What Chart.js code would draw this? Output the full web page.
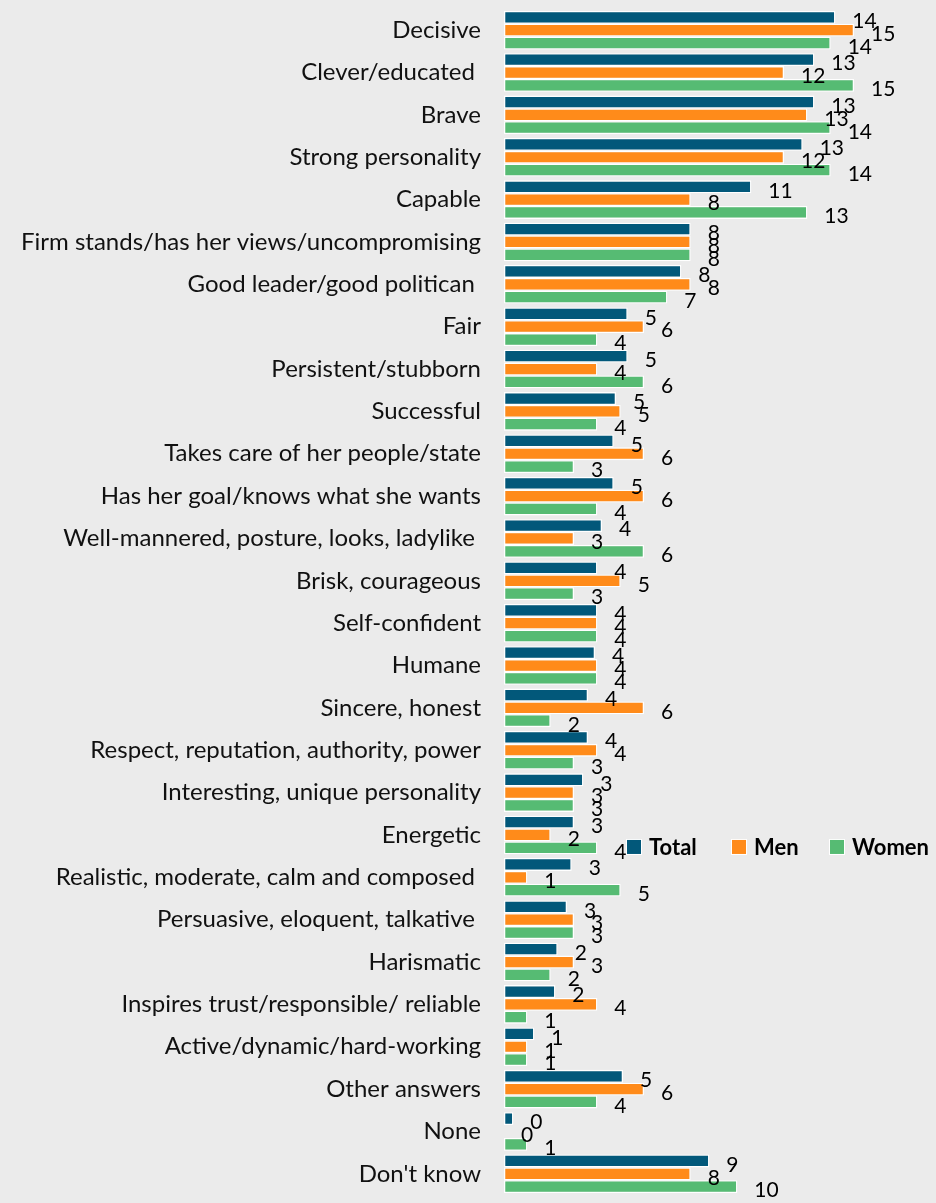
<!DOCTYPE html>
<html>
<head>
<meta charset="utf-8">
<script src="https://cdn.jsdelivr.net/npm/chart.js@4.4.1/dist/chart.umd.min.js"></script>
<style>
  html, body { margin: 0; padding: 0; background: #ebebeb; }
  #traitsChart { display: block; }
</style>
</head>
<body>
<canvas id="traitsChart" width="936" height="1203"></canvas>
<script>
const categories = [
    'Decisive', 'Clever/educated ', 'Brave', 'Strong personality', 'Capable',
    'Firm stands/has her views/uncompromising', 'Good leader/good politican ', 'Fair',
    'Persistent/stubborn', 'Successful', 'Takes care of her people/state',
    'Has her goal/knows what she wants', 'Well-mannered, posture, looks, ladylike ',
    'Brisk, courageous', 'Self-confident', 'Humane', 'Sincere, honest',
    'Respect, reputation, authority, power', 'Interesting, unique personality', 'Energetic',
    'Realistic, moderate, calm and composed ', 'Persuasive, eloquent, talkative ',
    'Harismatic', 'Inspires trust/responsible/ reliable', 'Active/dynamic/hard-working',
    'Other answers', 'None', "Don't know"
];
const totalValues = [14.2, 13.3, 13.3, 12.8, 10.6, 8.0, 7.6, 5.3, 5.3, 4.8, 4.7, 4.7, 4.2, 4.0,
    4.0, 3.9, 3.6, 3.6, 3.4, 3.0, 2.9, 2.7, 2.3, 2.2, 1.3, 5.1, 0.4, 8.8];
const menValues = [15, 12, 13, 12, 8, 8, 8, 6, 4, 5, 6, 6, 3, 5, 4, 4, 6, 4, 3, 2, 1, 3, 3, 4, 1, 6, 0, 8];
const womenValues = [14, 15, 14, 14, 13, 8, 7, 4, 6, 4, 3, 4, 6, 3, 4, 4, 2, 3, 3, 4, 5, 3, 2, 1, 1, 4, 1, 10];

const seriesNames = ['Total', 'Men', 'Women'];
const seriesColors = ['#02587a', '#ff8b1a', '#56bb73'];

// value labels to the right of each bar
const valueLabels = {
    id: 'valueLabels',
    afterDatasetsDraw(chart) {
        const ctx = chart.ctx;
        ctx.save();
        ctx.font = '21px Lato';
        ctx.fillStyle = '#000';
        ctx.textAlign = 'left';
        ctx.textBaseline = 'middle';
        chart.data.datasets.forEach((ds, i) => {
            chart.getDatasetMeta(i).data.forEach((bar, j) => {
                ctx.fillText(String(Math.round(ds.data[j])), bar.x + 17, bar.y + 4);
            });
        });
        ctx.restore();
    }
};

// legend sitting inside the plot, next to "Energetic"
const innerLegend = {
    id: 'innerLegend',
    afterDraw(chart) {
        const ctx = chart.ctx;
        const y = chart.scales.y.getPixelForValue(19) + 12;
        const xs = [chart.chartArea.left + 123, chart.chartArea.left + 228, chart.chartArea.left + 326];
        ctx.save();
        ctx.font = 'bold 22px Lato';
        ctx.textBaseline = 'middle';
        chart.data.datasets.forEach((ds, i) => {
            ctx.fillStyle = '#fff';
            ctx.fillRect(xs[i] - 1, y - 8, 16, 16);
            ctx.fillStyle = ds.backgroundColor;
            ctx.fillRect(xs[i], y - 7, 14, 14);
            ctx.fillStyle = '#000';
            ctx.fillText(ds.label, xs[i] + 22, y + 1);
        });
        ctx.restore();
    }
};

const ctx = document.getElementById('traitsChart').getContext('2d');
const chart = new Chart(ctx, {
    type: 'bar',
    data: {
        labels: categories,
        datasets: [totalValues, menValues, womenValues].map((vals, i) => ({
            label: seriesNames[i],
            data: vals,
            backgroundColor: seriesColors[i],
            borderColor: '#ffffff',
            borderWidth: 1.3,
            borderSkipped: false,
            categoryPercentage: 0.91,
            barPercentage: 1.0
        }))
    },
    options: {
        indexAxis: 'y',
        responsive: false,
        animation: false,
        layout: { padding: { left: 0, right: 12, top: 9, bottom: 8 } },
        scales: {
            x: { display: false, min: 0, max: 18 },
            y: {
                grid: { display: false, drawTicks: false },
                border: { display: false },
                ticks: {
                    color: '#111',
                    font: { family: 'Lato', size: 24 },
                    padding: 23,
                    autoSkip: false
                },
                afterFit(scale) {
                    scale.width = 504;
                    scale.paddingTop = 0;
                    scale.paddingBottom = 0;
                }
            }
        },
        plugins: {
            legend: { display: false },
            tooltip: { enabled: false }
        }
    },
    plugins: [valueLabels, innerLegend]
});
</script>
</body>
</html>
